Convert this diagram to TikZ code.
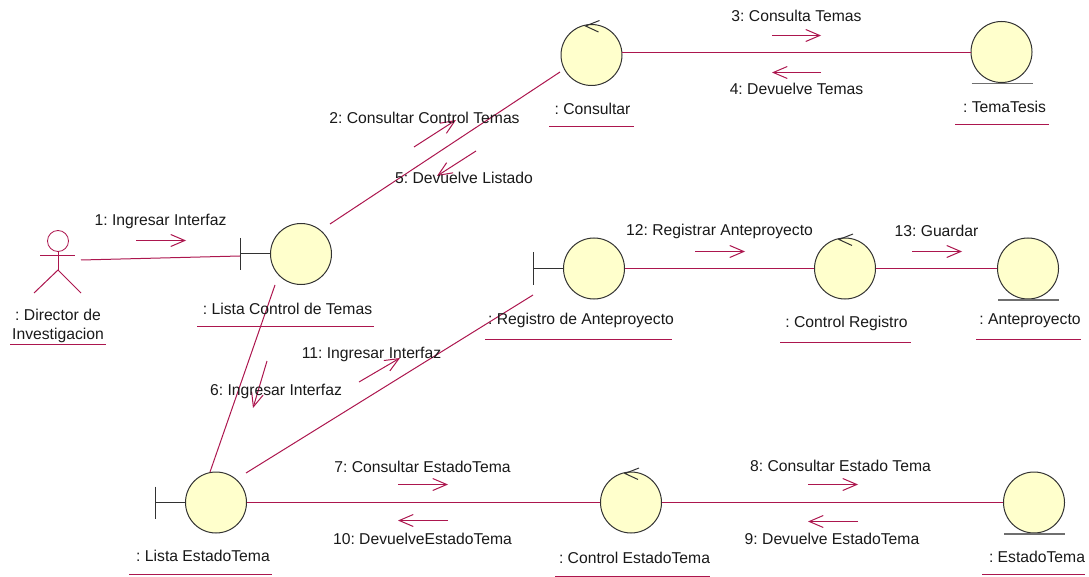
\documentclass[tikz,border=0pt]{standalone}
\usepackage{fontspec}
\setmainfont{Liberation Sans}
\usetikzlibrary{arrows.meta}
\definecolor{rosered}{RGB}{172,22,78}
\definecolor{ballfill}{RGB}{255,255,204}
\definecolor{ballline}{RGB}{50,50,50}
\tikzset{
	ball/.style={circle, draw = ballline, fill = ballfill, line width = 1pt, minimum size = 61pt, inner sep = 0pt},
	link/.style={draw = rosered, line width = 1pt},
	msg/.style={draw = rosered, line width = 1pt, -{Straight Barb[length = 14pt, width = 12pt, line width = 1pt]}},
	msgtext/.style={font = \fontsize{15.7}{18}\selectfont, text = black!90, inner sep = 0pt},
	objtext/.style={font = \fontsize{15.7}{19}\selectfont, text = black!90, inner sep = 0pt, align = center},
	objline/.style={draw = rosered, line width = 1pt}
}
\frenchspacing
\newcommand{\boundaryobj}[3]{\node[ball] (#1) at (#2,#3) {};
					\begin{scope}[shift = {(#2,#3)}]
						\draw[ballline, line width = 1pt] (-61,0) -- (-31,0);
						\draw[ballline, line width = 1pt] (-61,-16) -- (-61,16);
					\end{scope}}
\newcommand{\controlobj}[3]{\node[ball] (#1) at (#2,#3) {};
					\begin{scope}[shift = {(#2,#3)}]
						\draw[ballline, line width = 1pt] (8,-34.5) -- (-6,-29) -- (7,-23);
					\end{scope}}
\newcommand{\entityobj}[3]{\node[ball] (#1) at (#2,#3) {};
					\begin{scope}[shift = {(#2,#3)}]
						\draw[ballline!70, line width = 1.2pt] (-30,31.5) -- (31,31.5);
					\end{scope}}
\newcommand{\objname}[7]{\node[objtext] (#1) at (#3,#4) {#2};
					\coordinate (#1a) at (#5,#7);
					\coordinate (#1b) at (#6,#7);
					\draw[objline] (#1a) -- (#1b);}
\newcommand{\msgarrow}[8]{\coordinate (#1s) at (#2,#3);
					\coordinate (#1e) at (#4,#5);
					\draw[msg] (#1s) -- (#1e);
					\node[msgtext] (#1t) at (#6,#7) {#8};}

\begin{document}
\begin{tikzpicture}[x = 1pt, y = -1pt]
					\useasboundingbox (0,0) rectangle (1089,577);

					% objects
					\boundaryobj{listacontrol}{301}{254}
					\boundaryobj{listaestado}{216}{502.5}
					\boundaryobj{registro}{594}{268.5}
					\controlobj{consultar}{591.5}{55}
					\controlobj{controlregistro}{845}{268.5}
					\controlobj{controlestado}{631}{502.5}
					\entityobj{tematesis}{1001.5}{52}
					\entityobj{anteproyecto}{1028}{268.5}
					\entityobj{estadotema}{1034}{502.5}

					% actor
					\node[circle, draw = rosered, line width = 0.8pt, minimum size = 21pt, inner sep = 0pt] (director) at (58,241) {};
					\coordinate (hip) at (58,270);
					\coordinate (shoulderl) at (40,256);
					\coordinate (shoulderr) at (75,256);
					\coordinate (footl) at (34,293);
					\coordinate (footr) at (81,293);
					\draw[link] (director.south) -- (hip);
					\draw[link] (shoulderl) -- (shoulderr);
					\draw[link] (footl) -- (hip) -- (footr);

					% links
					\coordinate (d1) at (81,260);
					\coordinate (lc0) at (240,256);
					\coordinate (lc1) at (330,224);
					\coordinate (co1) at (560,72);
					\coordinate (co2) at (622,53);
					\coordinate (te1) at (971,53);
					\coordinate (lc2) at (275,285);
					\coordinate (le1) at (210,472);
					\coordinate (le2) at (246,473);
					\coordinate (re1) at (533,295);
					\draw[link] (d1) -- (lc0);
					\draw[link] (lc1) -- (co1);
					\draw[link] (co2) -- (te1);
					\draw[link] (lc2) -- (le1);
					\draw[link] (le2) -- (re1);
					\draw[link] (registro) -- (controlregistro);
					\draw[link] (controlregistro) -- (anteproyecto);
					\draw[link] (listaestado) -- (controlestado);
					\draw[link] (controlestado) -- (estadotema);

					% messages
					\msgarrow{m1}{136}{240.5}{186}{240.5}{160.5}{221}{1: Ingresar Interfaz}
					\msgarrow{m2}{414}{147}{456}{120}{424.5}{118}{2: Consultar Control Temas}
					\msgarrow{m3}{772}{35.5}{821}{35.5}{796.5}{16}{3: Consulta Temas}
					\msgarrow{m4}{821}{72.5}{772}{72.5}{796.5}{89}{4: Devuelve Temas}
					\msgarrow{m5}{476}{151}{437}{176}{464}{178}{5: Devuelve Listado}
					\msgarrow{m6}{267}{361}{253}{408}{276}{391}{6: Ingresar Interfaz}
					\msgarrow{m7}{398}{484.5}{448}{484.5}{422.5}{467}{7: Consultar EstadoTema}
					\msgarrow{m8}{808}{484.5}{858}{484.5}{840.5}{466}{8: Consultar Estado Tema}
					\msgarrow{m9}{858}{521.5}{808}{521.5}{832}{539}{9: Devuelve EstadoTema}
					\msgarrow{m10}{448}{520.5}{398}{520.5}{422.5}{539}{10: DevuelveEstadoTema}
					\msgarrow{m11}{359}{382}{400}{358}{371.5}{354}{11: Ingresar Interfaz}
					\msgarrow{m12}{695}{251.5}{745}{251.5}{719.5}{231}{12: Registrar Anteproyecto}
					\msgarrow{m13}{912}{251.5}{962}{251.5}{936.5}{231}{13: Guardar}

					% object names
					\objname{directorname}{: Director de\\Investigacion}{58}{326}{10}{106}{344.5}
					\objname{listacontrolname}{: Lista Control de Temas}{287.5}{308.5}{197}{374}{326.5}
					\objname{consultarname}{: Consultar}{592.5}{108.5}{549}{634}{126.5}
					\objname{tematesisname}{: TemaTesis}{1004.5}{106.5}{955}{1049}{124.5}
					\objname{registroname}{: Registro de Anteproyecto}{581}{320.5}{485}{672}{339.5}
					\objname{controlregistroname}{: Control Registro}{846.5}{323.5}{780}{911}{342.5}
					\objname{anteproyectoname}{: Anteproyecto}{1030}{320.5}{976}{1081}{339.5}
					\objname{listaestadoname}{: Lista EstadoTema}{203}{555.5}{129}{272}{574.5}
					\objname{controlestadoname}{: Control EstadoTema}{634.5}{557.5}{555}{710}{576.5}
					\objname{estadotemaname}{: EstadoTema}{1037}{556.5}{982}{1085}{574.5}

\end{tikzpicture}
\end{document}
